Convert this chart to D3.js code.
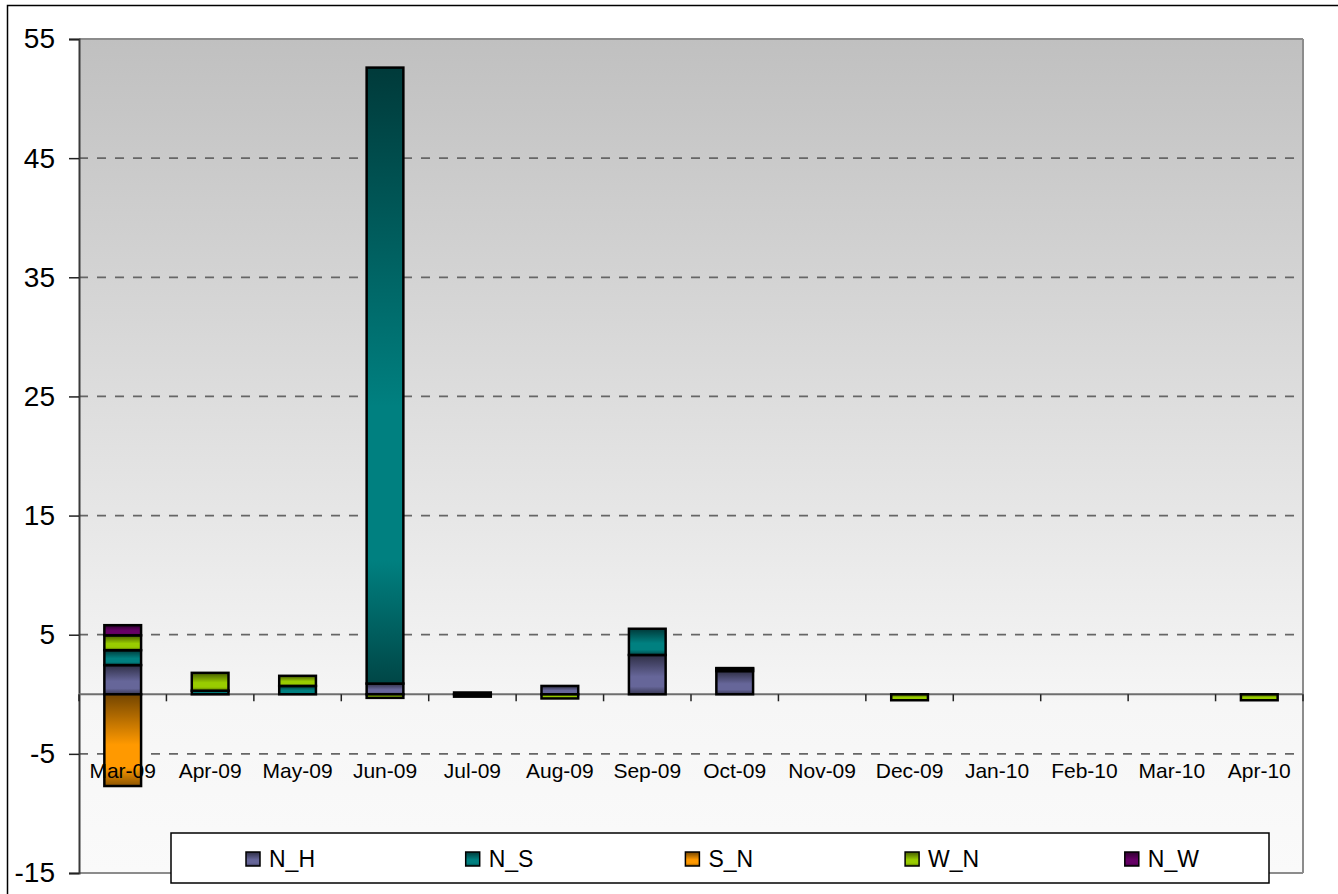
<!DOCTYPE html>
<html>
<head>
<meta charset="utf-8">
<script src="https://cdn.jsdelivr.net/npm/d3@7"></script>
<style>
  html, body { margin: 0; padding: 0; background: #ffffff; }
  svg { display: block; font-family: "Liberation Sans", Arial, sans-serif; }
</style>
</head>
<body>
<svg id="chart" width="1338" height="894"></svg>
<script>
const categories = ["Mar-09","Apr-09","May-09","Jun-09","Jul-09","Aug-09","Sep-09","Oct-09","Nov-09","Dec-09","Jan-10","Feb-10","Mar-10","Apr-10"];
const seriesNames = ["N_H","N_S","S_N","W_N","N_W"];
const N_H = [2.45, 0, 0, 0.9, 0, 0.7, 3.3, 1.95, 0, 0, 0, 0, 0, 0];
const N_S = [1.25, 0.3, 0.7, 51.7, 0.15, 0, 2.2, 0.2, 0, 0, 0, 0, 0, 0];
const S_N = [-7.7, 0, 0, 0, 0, 0, 0, 0, 0, 0, 0, 0, 0, 0];
const W_N = [1.25, 1.5, 0.85, -0.3, -0.2, -0.35, 0, 0.05, 0, -0.5, 0, 0, 0, -0.5];
const N_W = [0.85, 0, 0, 0, 0, 0, 0, 0, 0, 0, 0, 0, 0, 0];
const yTicks = [-15, -5, 5, 15, 25, 35, 45, 55];
const colors = ["#666699", "#008080", "#FF9900", "#99CC00", "#660066"];

const seriesValues = [N_H, N_S, S_N, W_N, N_W];
const rows = categories.map((c, i) => {
  const r = { cat: c };
  seriesNames.forEach((s, k) => r[s] = seriesValues[k][i]);
  return r;
});

const svg = d3.select("#chart");
const plot = { left: 79, right: 1303, top: 39, bottom: 873 };

const x = d3.scaleBand().domain(categories).range([plot.left, plot.right])
  .paddingInner(0.58).paddingOuter(0.29);
const xStep = d3.scaleBand().domain(categories).range([plot.left, plot.right]).padding(0);
const y = d3.scaleLinear().domain([-15, 55]).range([plot.bottom, plot.top]);

const defs = svg.append("defs");
const bg = defs.append("linearGradient").attr("id", "bg").attr("x1", 0).attr("y1", 0).attr("x2", 0).attr("y2", 1);
bg.append("stop").attr("offset", "0%").attr("stop-color", "#c0c0c0");
bg.append("stop").attr("offset", "80%").attr("stop-color", "#f6f6f6");
bg.append("stop").attr("offset", "100%").attr("stop-color", "#fafafa");

seriesNames.forEach((s, k) => {
  const base = d3.rgb(colors[k]);
  const g = defs.append("linearGradient").attr("id", "g" + k).attr("x1", 0).attr("y1", 0).attr("x2", 0).attr("y2", 1);
  g.append("stop").attr("offset", "0%").attr("stop-color", d3.interpolateRgb(base, "#000")(0.55));
  g.append("stop").attr("offset", "55%").attr("stop-color", base.formatHex());
  g.append("stop").attr("offset", "80%").attr("stop-color", base.formatHex());
  g.append("stop").attr("offset", "100%").attr("stop-color", d3.interpolateRgb(base, "#000")(0.45));
});

// outer border
svg.append("rect").attr("x", 7.5).attr("y", 5.5).attr("width", 1340).attr("height", 900)
  .attr("fill", "#fff").attr("stroke", "#000").attr("stroke-width", 1.5);

// plot background
svg.append("rect").attr("x", plot.left).attr("y", plot.top)
  .attr("width", plot.right - plot.left).attr("height", plot.bottom - plot.top)
  .attr("fill", "url(#bg)");

// gridlines
svg.append("g").selectAll("line").data(yTicks.filter(t => t !== 55 && t !== -15)).join("line")
  .attr("x1", plot.left).attr("x2", plot.right)
  .attr("y1", d => y(d)).attr("y2", d => y(d))
  .attr("stroke", "#666").attr("stroke-width", 1.8).attr("stroke-dasharray", "9,9");

// plot border
svg.append("line").attr("x1", plot.left).attr("x2", plot.right).attr("y1", plot.top).attr("y2", plot.top)
  .attr("stroke", "#8c8c8c").attr("stroke-width", 2);
svg.append("line").attr("x1", plot.right).attr("x2", plot.right).attr("y1", plot.top).attr("y2", plot.bottom)
  .attr("stroke", "#8c8c8c").attr("stroke-width", 2);
svg.append("line").attr("x1", plot.left).attr("x2", plot.right).attr("y1", plot.bottom).attr("y2", plot.bottom)
  .attr("stroke", "#8c8c8c").attr("stroke-width", 2);

// y axis
const yAxis = d3.axisLeft(y).tickValues(yTicks).tickSize(10).tickPadding(14).tickFormat(d => String(d));
const ya = svg.append("g").attr("transform", `translate(${plot.left},0)`).call(yAxis);
ya.select(".domain").attr("stroke", "#3a3a3a").attr("stroke-width", 2);
ya.selectAll(".tick line").attr("stroke", "#222").attr("stroke-width", 1.5);
ya.selectAll(".tick text").attr("font-size", 28).attr("fill", "#000")
  .attr("font-family", "'Liberation Sans', Arial, sans-serif");

// zero axis line
svg.append("line").attr("x1", plot.left).attr("x2", plot.right).attr("y1", y(0)).attr("y2", y(0))
  .attr("stroke", "#6e6e6e").attr("stroke-width", 2);
// category boundary ticks
const bounds = categories.map(c => xStep(c)).concat([plot.right]);
svg.append("g").selectAll("line").data(bounds).join("line")
  .attr("x1", d => d).attr("x2", d => d)
  .attr("y1", y(0)).attr("y2", y(0) + 7)
  .attr("stroke", "#222").attr("stroke-width", 1.5);

// bars
const stack = d3.stack().keys(seriesNames).offset(d3.stackOffsetDiverging);
const stacked = stack(rows);
const barsG = svg.append("g");
stacked.forEach((layer, k) => {
  barsG.append("g").selectAll("rect")
    .data(layer.filter(d => Math.abs(d[1] - d[0]) > 1e-9))
    .join("rect")
    .attr("x", d => x(d.data.cat))
    .attr("width", x.bandwidth())
    .attr("y", d => y(Math.max(d[0], d[1])))
    .attr("height", d => Math.abs(y(d[0]) - y(d[1])))
    .attr("fill", `url(#g${k})`)
    .attr("stroke", "#000").attr("stroke-width", 2.5);
});

// x labels
svg.append("g").selectAll("text").data(categories).join("text")
  .attr("x", d => xStep(d) + xStep.bandwidth() / 2)
  .attr("y", 778)
  .attr("text-anchor", "middle")
  .attr("font-size", 21).attr("fill", "#000")
  .text(d => d);

// legend
const lg = svg.append("g");
lg.append("rect").attr("x", 171).attr("y", 833).attr("width", 1098).attr("height", 50)
  .attr("fill", "#fff").attr("stroke", "#000").attr("stroke-width", 1.5);
const legendStep = 219.7;
seriesNames.forEach((s, k) => {
  const sx = 246 + k * legendStep;
  lg.append("rect").attr("x", sx).attr("y", 852).attr("width", 14).attr("height", 14)
    .attr("fill", `url(#g${k})`).attr("stroke", "#000").attr("stroke-width", 1.5);
  lg.append("text").attr("x", sx + 23).attr("y", 867).attr("font-size", 23).attr("fill", "#000").text(s);
});
</script>
</body>
</html>
